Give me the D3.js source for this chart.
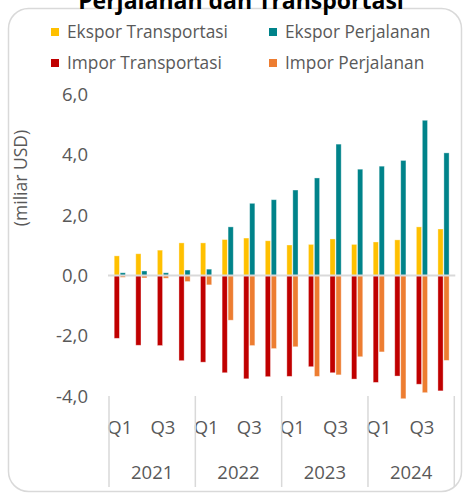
<!DOCTYPE html>
<html>
<head>
<meta charset="utf-8">
<script src="https://cdn.jsdelivr.net/npm/d3@7"></script>
<style>
  html, body { margin: 0; padding: 0; background: #fff; }
  svg { display: block; font-family: "Open Sans", "Noto Sans", sans-serif; }
</style>
</head>
<body>
<svg id="chart" width="468" height="494"></svg>
<script>
// Quarterly services trade: transport and travel (billion USD)
const years = ["2021", "2022", "2023", "2024"];
const quarters = ["Q1", "Q2", "Q3", "Q4"];
const ekspTransport = [0.65, 0.72, 0.84, 1.08, 1.08, 1.19, 1.24, 1.15, 1.01, 1.03, 1.21, 1.03, 1.11, 1.18, 1.61, 1.54];
const ekspTravel    = [0.09, 0.15, 0.09, 0.18, 0.21, 1.61, 2.39, 2.51, 2.83, 3.23, 4.35, 3.52, 3.62, 3.81, 5.14, 4.06];
const impTransport  = [-2.08, -2.31, -2.32, -2.82, -2.87, -3.22, -3.42, -3.35, -3.34, -3.02, -3.22, -3.43, -3.54, -3.33, -3.60, -3.82];
const impTravel     = [-0.06, -0.08, -0.09, -0.20, -0.31, -1.48, -2.32, -2.42, -2.36, -3.34, -3.29, -2.69, -2.53, -4.08, -3.88, -2.81];
const yTicks = [-4, -2, 0, 2, 4, 6];

const seriesNames = ["Ekspor Transportasi", "Ekspor Perjalanan", "Impor Transportasi", "Impor Perjalanan"];
const colors = ["#FFC000", "#00838A", "#C00000", "#ED7D31"];

const svg = d3.select("#chart");
const textColor = "#595959";

// outer rounded frame
svg.append("rect")
  .attr("x", 8.5).attr("y", 8.5)
  .attr("width", 453).attr("height", 483)
  .attr("rx", 20).attr("ry", 20)
  .attr("fill", "#fff")
  .attr("stroke", "#d9d9d9").attr("stroke-width", 1.5);

// title (sits above the frame, mostly outside the page)
svg.append("text")
  .attr("x", 241).attr("y", 9)
  .attr("text-anchor", "middle")
  .attr("font-size", 23).attr("font-weight", 700)
  .attr("fill", "#000")
  .text("Perjalanan dan Transportasi");

// category keys
const keys = [];
years.forEach(y => quarters.forEach(q => keys.push(y + " " + q)));

const plot = { left: 109, right: 454.3 };
const x = d3.scaleBand().domain(keys).range([plot.left, plot.right]).padding(0);
const xSub = d3.scaleBand().domain(["T", "P"]).range([0, x.bandwidth()])
  .paddingInner(0.13).paddingOuter(0.87);
const y = d3.scaleLinear().domain([-4, 6]).range([396.3, 94.3]);

// legend
const legendPos = [[51, 32], [269, 32], [51, 63], [269, 63]];
seriesNames.forEach((name, i) => {
  const g = svg.append("g").attr("transform", `translate(${legendPos[i][0]},${legendPos[i][1]})`);
  g.append("rect").attr("x", 0).attr("y", -4).attr("width", 8).attr("height", 8).attr("fill", colors[i]);
  g.append("text").attr("x", 16).attr("y", 0).attr("dy", "0.35em")
    .attr("font-size", 17.3).attr("fill", textColor).text(name);
});

// y axis labels
const fmt = v => d3.format(".1f")(v).replace(".", ",").replace("−", "-");
const yAxis = d3.axisLeft(y).tickValues(yTicks).tickSize(0).tickPadding(0).tickFormat(fmt);
const yg = svg.append("g").attr("transform", "translate(88,0)").call(yAxis);
yg.select(".domain").remove();
yg.selectAll("text").attr("font-size", 18.5).attr("fill", textColor)
  .attr("font-family", "\"Open Sans\", \"Noto Sans\", sans-serif");

svg.append("text")
  .attr("transform", "translate(27,178) rotate(-90)")
  .attr("text-anchor", "middle")
  .attr("font-size", 17.5).attr("fill", textColor)
  .text("(miliar USD)");

// bars
const series = [
  { vals: ekspTransport, sub: "T", color: colors[0] },
  { vals: ekspTravel, sub: "P", color: colors[1] },
  { vals: impTransport, sub: "T", color: colors[2] },
  { vals: impTravel, sub: "P", color: colors[3] }
];
series.forEach(s => {
  svg.append("g").selectAll("rect").data(s.vals).join("rect")
    .attr("x", (d, i) => x(keys[i]) + xSub(s.sub))
    .attr("width", xSub.bandwidth())
    .attr("y", d => Math.min(y(d), y(0)))
    .attr("height", d => Math.abs(y(d) - y(0)))
    .attr("fill", s.color)
    .attr("stroke", "#fff").attr("stroke-opacity", 0.45).attr("stroke-width", 0.8);
});

// zero line
svg.append("line")
  .attr("x1", plot.left - 1).attr("x2", plot.right + 1)
  .attr("y1", y(0)).attr("y2", y(0))
  .attr("stroke", "#d9d9d9").attr("stroke-width", 2);

// x axis: quarter labels (every other one) and year labels
keys.forEach((k, i) => {
  if (i % 2 === 0) {
    svg.append("text")
      .attr("x", x(k) + x.bandwidth() / 2).attr("y", 428).attr("dy", "0.35em")
      .attr("text-anchor", "middle").attr("font-size", 18.5).attr("fill", textColor)
      .text(quarters[i % 4]);
  }
});
const yearWidth = x.bandwidth() * 4;
years.forEach((yr, j) => {
  svg.append("text")
    .attr("x", plot.left + yearWidth * (j + 0.5)).attr("y", 473).attr("dy", "0.35em")
    .attr("text-anchor", "middle").attr("font-size", 18.5).attr("fill", textColor)
    .text(yr);
});
// year separators
d3.range(years.length + 1).forEach(j => {
  const xx = plot.left + yearWidth * j;
  svg.append("line")
    .attr("x1", xx).attr("x2", xx).attr("y1", 396).attr("y2", 487)
    .attr("stroke", "#d9d9d9").attr("stroke-width", 1.5);
});
</script>
</body>
</html>
